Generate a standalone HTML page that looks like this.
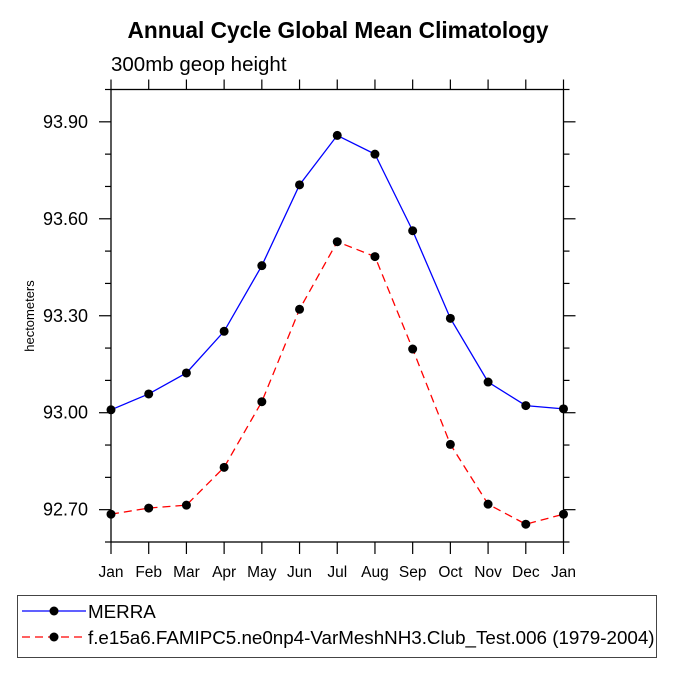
<!DOCTYPE html>
<html><head><meta charset="utf-8"><style>
body{margin:0;background:#fff;}
svg text{font-family:"Liberation Sans",sans-serif;}
</style></head><body>
<svg id="chart" width="675" height="675" viewBox="0 0 675 675" xmlns="http://www.w3.org/2000/svg">
<text x="338" y="38" text-anchor="middle" font-size="22.7" font-weight="bold">Annual Cycle Global Mean Climatology</text>
<text x="111" y="71" font-size="20.5">300mb geop height</text>
<text x="34" y="316" font-size="13" text-anchor="middle" transform="rotate(-90 34 316)">hectometers</text>
<g id="axes"></g>
<g id="series"></g>
<rect x="17.5" y="595.5" width="639" height="62" fill="none" stroke="#444"/>
<g>
<line x1="22" y1="611" x2="86" y2="611" stroke="#00f" stroke-width="1.3"/>
<circle cx="54" cy="611" r="4.5" fill="#000"/>
<text x="88" y="618" font-size="18.8">MERRA</text>
</g>
<g>
<line x1="22" y1="637" x2="86" y2="637" stroke="#f00" stroke-width="1.3" stroke-dasharray="8,5"/>
<circle cx="54" cy="637" r="4.5" fill="#000"/>
<text x="88" y="644" font-size="18.8">f.e15a6.FAMIPC5.ne0np4-VarMeshNH3.Club_Test.006 (1979-2004)</text>
</g>
</svg>
<script>
const months = ["Jan","Feb","Mar","Apr","May","Jun","Jul","Aug","Sep","Oct","Nov","Dec","Jan"];
const merra = [93.009,93.058,93.123,93.252,93.455,93.705,93.858,93.800,93.563,93.292,93.095,93.022,93.012];
const model = [92.686,92.705,92.714,92.831,93.034,93.320,93.529,93.483,93.197,92.902,92.717,92.655,92.686];
const yTicks = [92.7,93.0,93.3,93.6,93.9];
const yTickLabels = ["92.70","93.00","93.30","93.60","93.90"];
const yMin = 92.6, yMax = 94.0;
const L=111,R=563.5,T=89.5,B=542;
const NS="http://www.w3.org/2000/svg";
function xs(i){return L+(R-L)*i/(months.length-1);}
function ys(v){return B-(v-yMin)/(yMax-yMin)*(B-T);}
function mk(tag,attrs,parent){const e=document.createElementNS(NS,tag);for(const k in attrs)e.setAttribute(k,attrs[k]);parent.appendChild(e);return e;}
const ax=document.getElementById('axes');
const frame=mk('rect',{x:L,y:T,width:R-L,height:B-T,fill:'none',stroke:'#000','stroke-width':1.3},ax);


for(let i=0;i<months.length;i++){
  const x=xs(i);
  mk('line',{x1:x,y1:B,x2:x,y2:B+12,stroke:'#000','stroke-width':1.2},ax);
  mk('line',{x1:x,y1:T,x2:x,y2:T-10,stroke:'#000','stroke-width':1.2},ax);
  const t=mk('text',{x:x,y:B+35,'font-size':15.5,'text-anchor':'middle'},ax);
  t.textContent=months[i];
  
  
}
for(let k=0;k<=14;k++){
  const v=yMin+k*0.1, y=ys(v);
  const major=yTicks.some(t=>Math.abs(t-v)<1e-6);
  const len=major?12:6;
  mk('line',{x1:L-len,y1:y,x2:L,y2:y,stroke:'#000','stroke-width':1.2},ax);
  mk('line',{x1:R,y1:y,x2:R+len,y2:y,stroke:'#000','stroke-width':1.2},ax);
}
yTicks.forEach((v,i)=>{
  const t=mk('text',{x:L-23,y:ys(v)+6,'font-size':18,'text-anchor':'end'},ax);
  t.textContent=yTickLabels[i];
  
  
});
const sg=document.getElementById('series');
function draw(vals,color,dash,name){
  const g=mk('g',{},sg);
  
  
  const pts=vals.map((v,i)=>xs(i)+','+ys(v)).join(' ');
  const a={points:pts,fill:'none',stroke:color,'stroke-width':1.3};
  if(dash)a['stroke-dasharray']=dash;
  mk('polyline',a,g);
  vals.forEach((v,i)=>{
    const c=mk('circle',{cx:xs(i),cy:ys(v),r:4.5,fill:'#000'},g);
    
    
  });
}
draw(merra,'#00f',null,'merra-series');
draw(model,'#f00','8,5','model-series');
</script>
</body></html>
